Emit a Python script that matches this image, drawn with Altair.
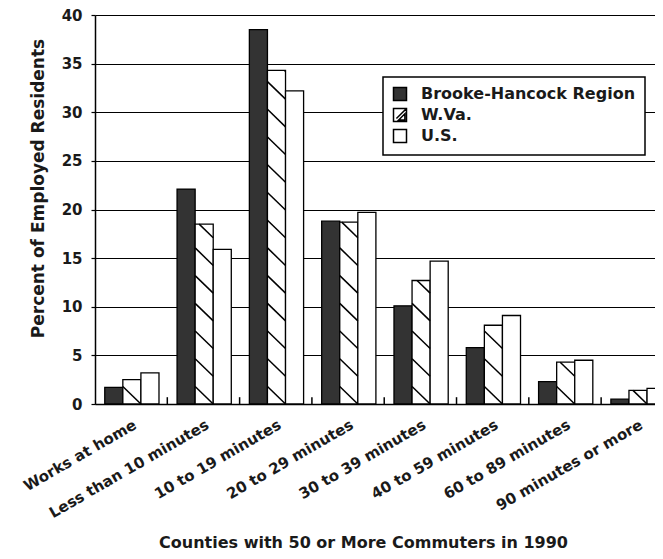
import json
import altair as alt
import pandas as pd

categories = ["Works at home", "Less than 10 minutes", "10 to 19 minutes",
              "20 to 29 minutes", "30 to 39 minutes", "40 to 59 minutes",
              "60 to 89 minutes", "90 minutes or more"]
series = ["Brooke-Hancock Region", "W.Va.", "U.S."]
brooke = [1.7, 22.1, 38.5, 18.8, 10.1, 5.8, 2.3, 0.5]
wva = [2.5, 18.5, 34.3, 18.7, 12.7, 8.1, 4.3, 1.4]
us = [3.2, 15.9, 32.2, 19.7, 14.7, 9.1, 4.5, 1.6]
y_ticks = [0, 5, 10, 15, 20, 25, 30, 35, 40]

FONT = "DejaVu Sans"
INK = "#1a1a1a"
BAR_W = 0.25
GROUP_START = 0.135
HATCH_DROP = 1.8
HATCH_STEP = 2.85

# bar table
rows = []
for j, (name, vals) in enumerate(zip(series, [brooke, wva, us])):
    for i, (cat, v) in enumerate(zip(categories, vals)):
        x0 = i + GROUP_START + j * BAR_W
        rows.append({"category": cat, "series": name, "value": v,
                     "x0": x0, "x1": x0 + BAR_W})
bars_df = pd.DataFrame(rows)

# hatch segments for W.Va. bars (decoration derived from the W.Va. values)
hatch = []
for i, v in enumerate(wva):
    x0 = i + GROUP_START + BAR_W
    x1 = x0 + BAR_W
    k = 0
    while True:
        ytop = HATCH_DROP + HATCH_STEP * k
        ybot = ytop - HATCH_DROP
        if ybot >= v:
            break
        if ytop <= v:
            hatch.append({"hx0": x0, "hy0": ytop, "hx1": x1, "hy1": ybot})
        else:
            frac = (ytop - v) / HATCH_DROP
            hatch.append({"hx0": x0 + frac * BAR_W, "hy0": v, "hx1": x1, "hy1": ybot})
        k += 1
hatch_df = pd.DataFrame(hatch)

bounds_df = pd.DataFrame({"b": list(range(1, len(categories))), "y0": 0.0, "y1": 0.7})

label_expr = json.dumps(categories) + "[floor(datum.value)]"

xscale = alt.Scale(domain=[0, 7.745], nice=False, zero=False)
yscale = alt.Scale(domain=[0, 40], nice=False)

x_axis = alt.Axis(values=[i + 0.5 for i in range(len(categories))], labelExpr=label_expr,
                  ticks=False, grid=False, labelAngle=-30, labelAlign="right",
                  labelBaseline="top", labelPadding=13, labelFontSize=15,
                  labelFont=FONT, labelFontWeight="bold", labelColor=INK,
                  labelOverlap=False, labelBound=False, labelFlush=False,
                  labelLimit=0,
                  domainColor="black", domainWidth=1.5,
                  title="Counties with 50 or More Commuters in 1990",
                  titleFont=FONT, titleFontSize=16, titleFontWeight="bold",
                  titleColor=INK, titleX=268, titleY=143, titleAlign="center",
                  titleBaseline="alphabetic")
y_axis = alt.Axis(values=y_ticks, format="d", tickSize=4, tickColor="black",
                  tickWidth=1.2, labelPadding=9, labelFontSize=15, labelFont=FONT,
                  labelFontWeight="bold", labelColor=INK, grid=True,
                  gridColor="black", gridWidth=1.2, gridOpacity=1,
                  domainColor="black", domainWidth=1.5,
                  title="Percent of Employed Residents", titleFont=FONT,
                  titleFontSize=17, titleFontWeight="bold", titleColor=INK,
                  titleX=-48, titleY=173, titleAlign="center",
                  titleBaseline="bottom", titleAngle=-90)

fill_scale = alt.Scale(domain=series, range=["#333333", "white", "white"])
shape_scale = alt.Scale(domain=series, range=[
    "square",
    "M-1,-1H1V1H-1Z M-0.55,0.55L1,-1 M-0.2,0.75L0.75,0.75L0.75,-0.2Z",
    "square"])

bars = alt.Chart(bars_df).mark_bar(stroke="black", strokeWidth=1.3, clip=True).encode(
    x=alt.X("x0:Q", scale=xscale, axis=x_axis),
    x2="x1:Q",
    y=alt.Y("value:Q", scale=yscale, axis=y_axis),
    y2=alt.datum(0),
    fill=alt.Fill("series:N", scale=fill_scale, title=None),
)

legend_pts = alt.Chart(bars_df).transform_filter("false").mark_point(
    filled=True, stroke="black", strokeWidth=1.5, opacity=1).encode(
    x=alt.X("x0:Q", scale=xscale),
    y=alt.Y("value:Q", scale=yscale),
    fill=alt.Fill("series:N", scale=fill_scale, title=None),
    shape=alt.Shape("series:N", scale=shape_scale, title=None),
)

hatch_lines = alt.Chart(hatch_df).mark_rule(color="black", strokeWidth=1.5, clip=True).encode(
    x=alt.X("hx0:Q", scale=xscale),
    y=alt.Y("hy0:Q", scale=yscale),
    x2="hx1:Q",
    y2="hy1:Q",
)

bound_ticks = alt.Chart(bounds_df).mark_rule(color="black", strokeWidth=1.5).encode(
    x=alt.X("b:Q", scale=xscale),
    y=alt.Y("y0:Q", scale=yscale),
    y2="y1:Q",
)

chart = alt.layer(bars, hatch_lines, bound_ticks, legend_pts).properties(
    width=560, height=389,
    autosize=alt.AutoSizeParams(type="none"),
    padding={"left": 87, "top": 7, "right": 0, "bottom": 147},
    background="white",
).configure_view(strokeWidth=0).configure_legend(
    orient="none", legendX=288, legendY=62, strokeColor="black", strokeWidth=1.5,
    fillColor="white", padding=9, symbolSize=169, labelFont=FONT,
    labelFontSize=16, labelFontWeight="bold", labelColor=INK, rowPadding=1,
    labelOffset=13, labelLimit=0, symbolStrokeColor="black", symbolStrokeWidth=1.5,
    symbolType="square",
)

chart.save("out.html", embed_options={"renderer": "svg", "actions": False})
